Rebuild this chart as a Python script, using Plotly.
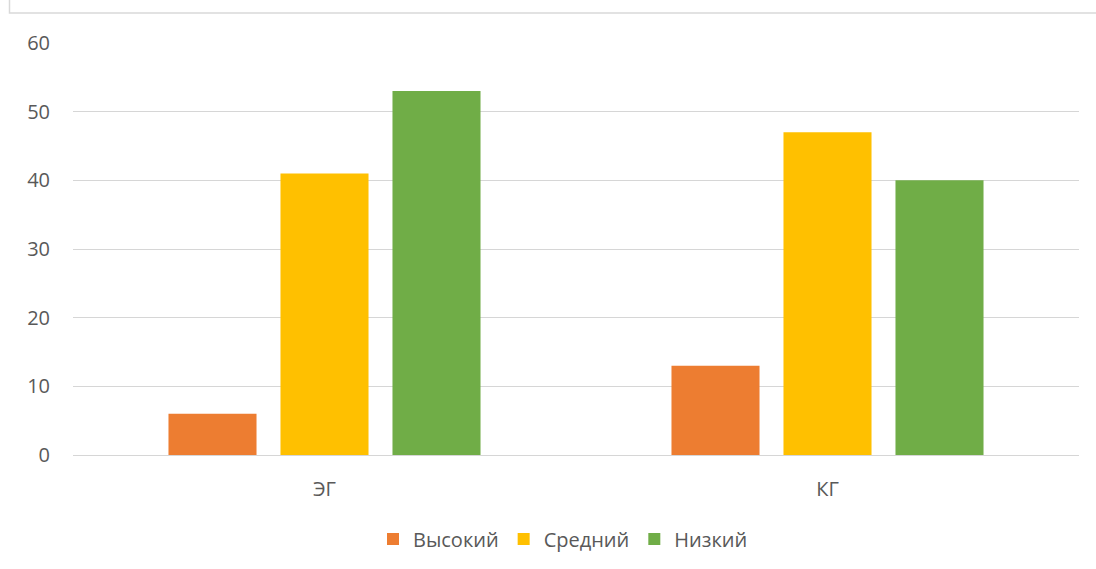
import plotly.graph_objects as go

groups = ["ЭГ", "КГ"]
series_names = ["Высокий", "Средний", "Низкий"]
high = [6, 13]
medium = [41, 47]
low = [53, 40]
colors = ["#ED7D31", "#FFC000", "#70AD47"]
y_ticks = [0, 10, 20, 30, 40, 50, 60]

FONT = "Open Sans"
TEXT = "#595959"
SIZE = 20

fig = go.Figure()
for name, vals, col in zip(series_names, [high, medium, low], colors):
    fig.add_trace(go.Bar(x=groups, y=vals, name=name, marker=dict(color=col, line=dict(width=0))))

# plot area geometry
L, R, T, B = 73, 17, 43, 114
W, H = 1096, 569
pw, ph = W - L - R, H - T - B

def px(x):
    return (x - L) / pw

def py(y):
    return (H - B - y) / ph

fig.update_layout(
    width=W, height=H,
    margin=dict(l=L, r=R, t=T, b=B, autoexpand=False),
    paper_bgcolor="white", plot_bgcolor="white",
    barmode="group", bargap=0.332, bargroupgap=0.214,
    font=dict(family=FONT, size=SIZE, color=TEXT),
    showlegend=True,
    legend=dict(orientation="h", x=px(563), xanchor="center", y=py(539), yanchor="middle",
                font=dict(family=FONT, size=SIZE, color=TEXT), itemwidth=30,
                traceorder="normal"),
    xaxis=dict(showgrid=False, showline=False, ticks="", ticklabelstandoff=20,
               tickfont=dict(family=FONT, size=SIZE, color=TEXT)),
    yaxis=dict(range=[0, 60], tickvals=y_ticks, showgrid=True, gridcolor="#D6D6D6", gridwidth=1.4,
               zeroline=True, zerolinecolor="#D6D6D6", zerolinewidth=1.4, showline=False,
               ticks="", ticklabelstandoff=22, tickfont=dict(family=FONT, size=SIZE, color=TEXT)),
    shapes=[dict(type="path", xref="paper", yref="paper",
                 path=f"M {px(9.5)} {py(-30)} L {px(9.5)} {py(13)} L {px(1200)} {py(13)}",
                 line=dict(color="#D9D9D9", width=1.5))],
)

fig.write_html("out.html")
